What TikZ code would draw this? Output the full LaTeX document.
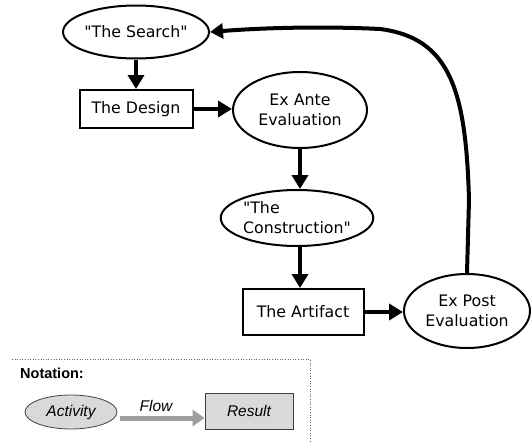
\documentclass[tikz,border=0pt]{standalone}
\usepackage{fontspec}
\setmainfont{DejaVu Sans}[Ligatures=TeXOff]
\newfontfamily\legfont{Liberation Sans}
\usetikzlibrary{shapes.geometric,arrows.meta}
\tikzset{
  act/.style={ellipse, draw, line width=2pt, inner sep=0pt, font=\fontsize{15.8}{20}\selectfont, align=center},
  res/.style={rectangle, draw, line width=2pt, inner sep=0pt, font=\fontsize{15.8}{20}\selectfont},
  flowarrow/.style={line width=4.2pt, -{Triangle[length=14pt,width=16pt]}},
  legact/.style={ellipse, draw=black!75, fill=black!15, line width=0.8pt, inner sep=0pt, font=\legfont\itshape\fontsize{15.5}{18}\selectfont},
  legres/.style={rectangle, draw=black!75, fill=black!15, line width=0.8pt, inner sep=0pt, font=\legfont\itshape\fontsize{15.5}{18}\selectfont},
  legtext/.style={font=\legfont\fontsize{15.5}{18}\selectfont, inner sep=0pt}
}
\begin{document}
\begin{tikzpicture}[x=1pt,y=-1pt]
\useasboundingbox (0,0) rectangle (531,442);
% main nodes
\node[act, minimum width=132pt, minimum height=53pt] (search) at (136,32) {"The Search"};
\node[res, minimum width=113pt, minimum height=38pt] (design) at (136,109) {The Design};
\node[act, minimum width=134pt, minimum height=76pt] (exante) at (300,110) {Ex Ante\\Evaluation};
\node[act, minimum width=140pt, minimum height=56pt, align=left] (constr) at (297,218) {"The\\Construction"};
\node[res, minimum width=121pt, minimum height=46pt] (artifact) at (303,312) {The Artifact};
\node[act, minimum width=126pt, minimum height=74pt] (expost) at (467,311) {Ex Post\\Evaluation};
% connectors
\draw[flowarrow] (search.south) -- (design.north);
\draw[flowarrow] (design.east) -- (design.east -| exante.west);
\draw[flowarrow] (exante.south) -- (exante.south |- constr.north);
\draw[flowarrow] (constr.south -| artifact.north) ++(-3,0) coordinate (cs) (cs) -- (cs |- artifact.north);
\draw[flowarrow] (artifact.east) -- (artifact.east -| expost.west);
\draw[line width=4pt, -{Triangle[length=13pt,width=15pt]}]
  (expost.north) -- (469,200)
  .. controls (466,90) and (450,38) .. (380,29)
  .. controls (320,26) and (260,28) .. (search.east);
% legend
\draw[dotted, black!60, line width=0.6pt] (12,359) -- (310,359) -- (310,442);
\node[legtext, anchor=west, font=\legfont\bfseries\fontsize{14.5}{18}\selectfont] (notation) at (20,373) {Notation:};
\node[legact, minimum width=92pt, minimum height=34pt] (activity) at (71,412) {Activity};
\node[legres, minimum width=88pt, minimum height=36pt] (result) at (249,411) {Result};
\draw[black!38, line width=5pt, -{Triangle[length=12pt,width=16pt]}] (activity.east) ++(3,6) coordinate (fs) (fs) -- (fs -| result.west);
\node[legtext, font=\legfont\itshape\fontsize{15.5}{18}\selectfont] (flow) at (156,406) {Flow};
\end{tikzpicture}
\end{document}
